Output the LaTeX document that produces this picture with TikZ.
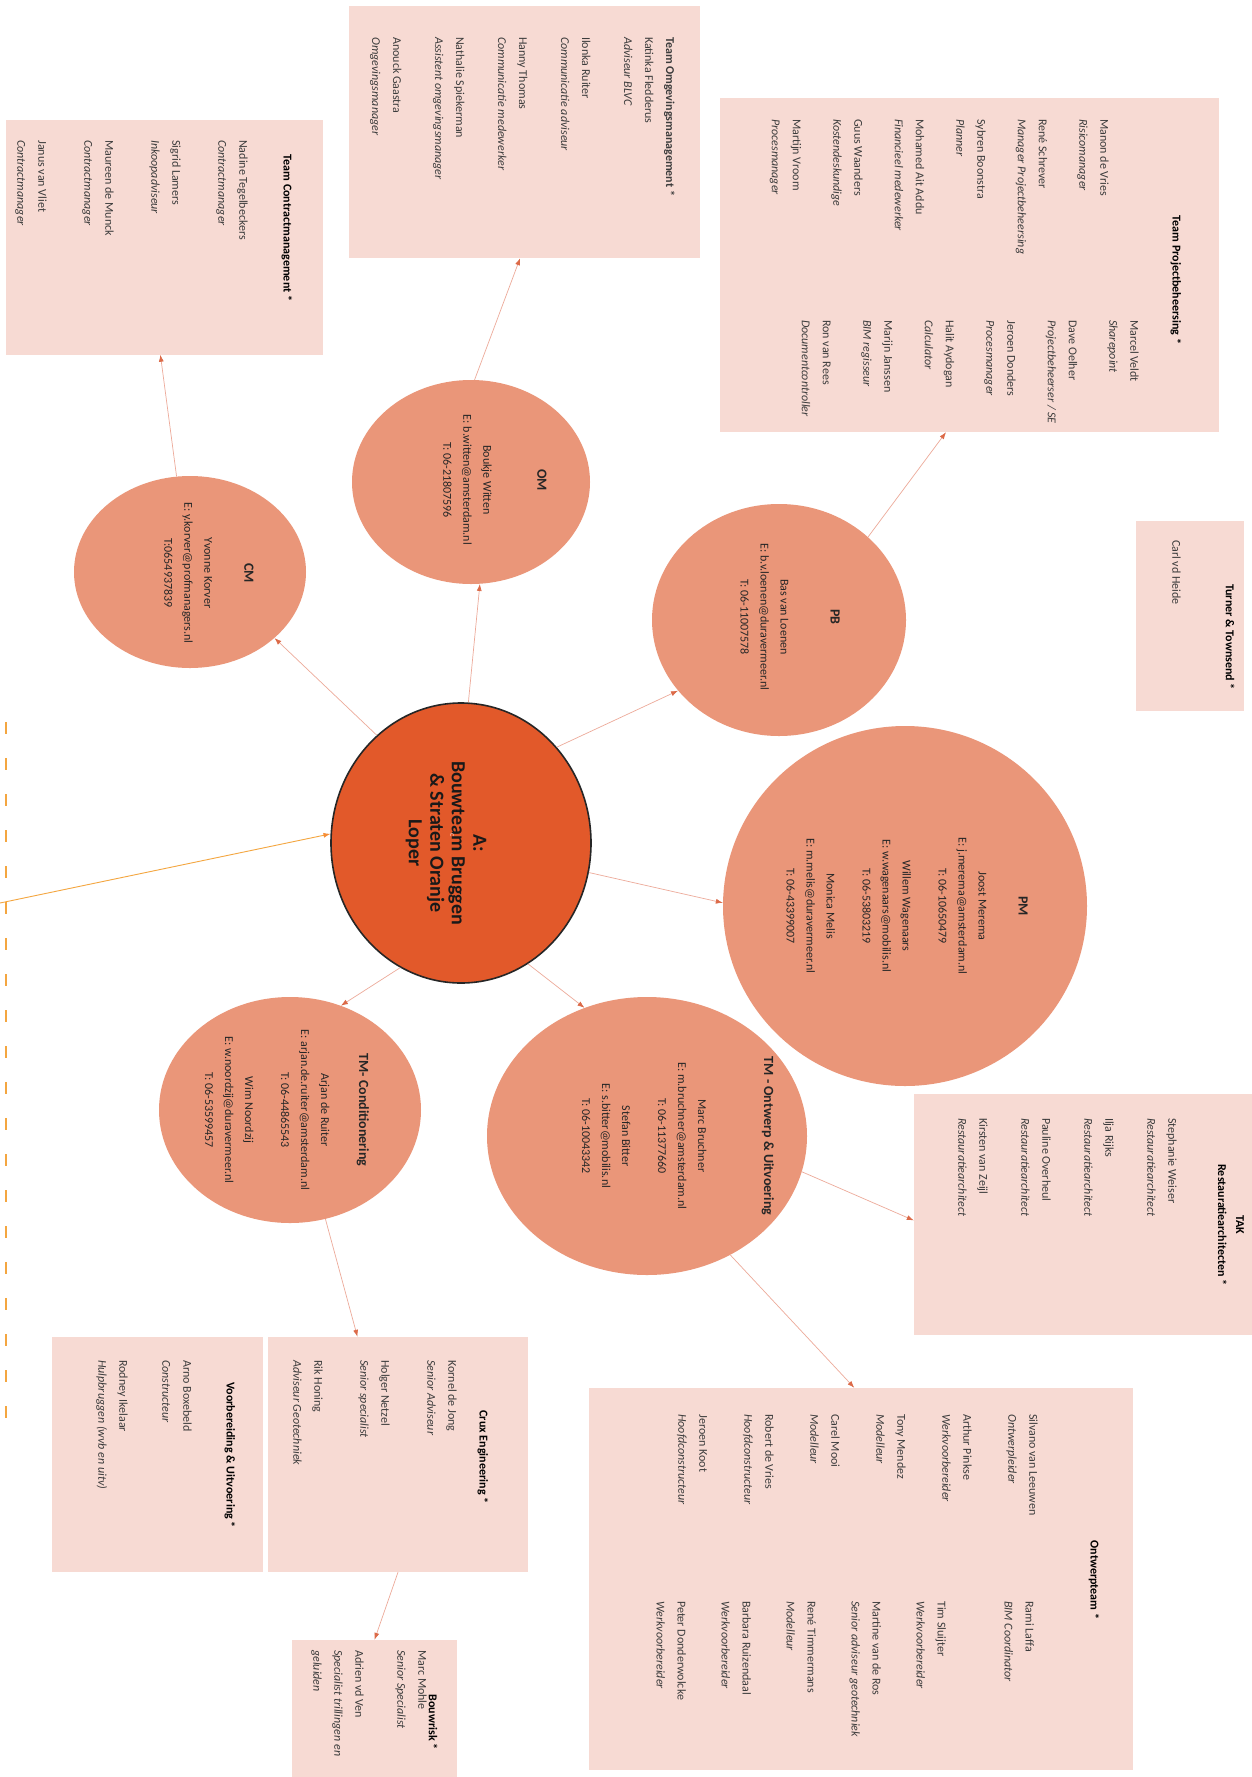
\documentclass[tikz,border=0pt]{standalone}
\usepackage{fontspec}
\setmainfont{Carlito}
\usetikzlibrary{shapes.geometric,arrows.meta}
\definecolor{boxpink}{HTML}{F7DAD3}
\definecolor{satfill}{HTML}{EA9679}
\definecolor{hubfill}{HTML}{E2592A}
\definecolor{linkcol}{HTML}{EDAA9A}
\definecolor{tipcol}{HTML}{DC6A48}
\definecolor{feedcol}{HTML}{F4A640}
\definecolor{inkgray}{HTML}{3C3C3C}

\begin{document}
\begin{tikzpicture}[x=1pt,y=-1pt,
    >={Latex[length=7pt,width=5pt,color=tipcol]},
    team/.style={rectangle,fill=boxpink,inner sep=0},
    sat/.style={ellipse,fill=satfill,inner sep=0},
    hub/.style={ellipse,fill=hubfill,draw=black!85,line width=1.6pt,inner sep=0},
    txt/.style={rotate=-90,inner sep=0,align=left,text=inkgray,font=\fontsize{12}{21}\selectfont},
    ttl/.style={rotate=-90,inner sep=0,align=center,text=black,font=\fontsize{12}{18}\selectfont\bfseries},
    ctxt/.style={rotate=-90,inner sep=0,align=center,text=black!85,font=\fontsize{12}{20}\selectfont},
    link/.style={->,draw=linkcol,line width=0.7pt}]
        \fill[white](0,0)rectangle(1252,1777);
        \useasboundingbox(0,0)rectangle(1252,1777);
        % teams
        \node[team,minimum width=317,minimum height=235](ctm)at(164.5,237){};
        \node[team,minimum width=351,minimum height=252](omb)at(524.5,132){};
        \node[team,minimum width=499,minimum height=334](pjb)at(969.5,265){};
        \node[team,minimum width=108,minimum height=190](tnt)at(1190,616){};
        \node[team,minimum width=338,minimum height=241](tak)at(1083,1214.5){};
        \node[team,minimum width=544,minimum height=382](owt)at(861,1579){};
        \node[team,minimum width=260,minimum height=235](crx)at(398,1454.5){};
        \node[team,minimum width=211,minimum height=235](vbu)at(157.5,1454.5){};
        \node[team,minimum width=165,minimum height=160](bwr)at(374.5,1720){};
        % circles
        \node[sat,minimum width=232,minimum height=192](cm)at(190,572){};
        \node[sat,minimum width=238,minimum height=204](om)at(471,482){};
        \node[sat,minimum width=254,minimum height=232](pb)at(779,620){};
        \node[sat,minimum width=364,minimum height=360](pm)at(905,906){};
        \node[sat,minimum width=320,minimum height=278](tmo)at(647,1136){};
        \node[sat,minimum width=262,minimum height=226](tmc)at(290,1110){};
        \node[hub,minimum width=260,minimum height=280](hub)at(461,843){};
        % links
        \draw[link](hub.128)--(cm.-38);
        \draw[link](hub.87)--(om.-85);
        \draw[link](hub.45)--(pb.215);
        \draw[link](hub.-13)--(pm.179);
        \draw[link](hub.-61)--(tmo.116);
        \draw[link](hub.-116)--(tmc.64);
        \draw[link](cm.98)--(ctm.-92);
        \draw[link](om.88)--(omb.-92);
        \draw[link](pb.43)--(pjb.-98);
        \draw[link](tmo.-13)--(tak.182);
        \draw[link](tmo.-55)--(owt.92);
        \draw[link](tmc.-72)--(crx.109);
        \draw[link](crx.south)--(bwr.north);
        \coordinate(feed)at(0,903);
        \draw[feedcol,line width=0.9pt,-{Latex[length=7pt,width=5pt,color=feedcol!85!red]}](feed)--(hub.176);
        \coordinate(dashtop)at(6,722);
        \coordinate(dashbot)at(6,1425);
        \draw[feedcol,line width=2.5pt,dash pattern=on 12pt off 24pt](dashtop)--(dashbot);
        % circle texts
        \node[rotate=-90,inner sep=0,align=center,font=\fontsize{20}{21.5}\selectfont\bfseries,text=black!90](hubtext)at(446,843){A:\\Bouwteam Bruggen\\\& Straten Oranje\\Loper};
        \node[rotate=-90,inner sep=0,text=hubfill!35!white,font=\fontsize{8}{8}\selectfont](hubmark)at(452,835){c};
        \node[ctxt](cmtext)at(209,573){{\fontsize{14}{20}\selectfont\bfseries CM}\\[20pt]Yvonne Korver\\E: y.korver@profmanagers.nl\\T:0654937839};
        \node[ctxt](omtext)at(495,480){{\fontsize{14}{20}\selectfont\bfseries OM}\\[34pt]Boukje Witten\\E: b.witten@amsterdam.nl\\T: 06-21807596};
        \node[ctxt](pbtext)at(790,617){{\fontsize{14}{20}\selectfont\bfseries PB}\\[30pt]Bas van Loenen\\E: b.v.loenen@duravermeer.nl\\T: 06-11007578};
        \node[ctxt](pmtext)at(907,906){{\fontsize{14}{20}\selectfont\bfseries PM}\\[20pt]Joost Merema\\E: j.merema@amsterdam.nl\\T: 06-10650479\\[16pt]Willem Wagenaars\\E: w.wagenaars@mobilis.nl\\T: 06-53803219\\[16pt]Monica Melis\\E: m.melis@duravermeer.nl\\T: 06-43399007};
        \node[ctxt](tmotext)at(678,1136){{\fontsize{14}{20}\selectfont\bfseries TM - Ontwerp \& Uitvoering}\\[46pt]Marc Bruchner\\E: m.bruchner@amsterdam.nl\\T: 06-11377660\\[16pt]Stefan Bitter\\E: s.bitter@mobilis.nl\\T: 06-10043342};
        \node[ctxt](tmctext)at(287,1110){{\fontsize{14}{20}\selectfont\bfseries TM- Conditionering}\\[18pt]Arjan de Ruiter\\E: arjan.de.ruiter@amsterdam.nl\\T: 06-44865543\\[16pt]Wim Noordzij\\E: w.noordzij@duravermeer.nl\\T: 06-53599457};
        % team texts
        \node[ttl](ctmttl)at(287,228){Team Contractmanagement *};
        \node[txt,anchor=north west](ctmlist)at(248,140){Nadine Tegelbeckers\\\textit{Contractmanager}\\[25pt]Sigrid Lamers\\\textit{Inkoopadviseur}\\[25pt]Maureen de Munck\\\textit{Contractmanager}\\[25pt]Janus van Vliet\\\textit{Contractmanager}};
        \node[txt,anchor=north west](omblist)at(675,37){\textbf{Team Omgevingsmanagement *}\\Katinka Fledderus\\\textit{Adviseur BLVC}\\[21pt]Ilonka Ruiter\\\textit{Communicatie adviseur}\\[21pt]Hanny Thomas\\\textit{Communicatie medewerker}\\[21pt]Nathalie Spiekerman\\\textit{Assistent omgevingsmanager}\\[21pt]Anouck Gaastra\\\textit{Omgevingsmanager}};
        \node[ttl](pjbttl)at(1176,280){Team Projectbeheersing *};
        \node[txt,anchor=north west](pjbleft)at(1109,119){Manon de Vries\\\textit{Risicomanager}\\[19.5pt]René Schrever\\\textit{Manager Projectbeheersing}\\[19.5pt]Sybren Boonstra\\\textit{Planner}\\[19.5pt]Mohamed Ait Addu\\\textit{Financieel medewerker}\\[19.5pt]Guus Waanders\\\textit{Kostendeskundige}\\[19.5pt]Martijn Vroom\\\textit{Procesmanager}};
        \node[txt,anchor=north west](pjbright)at(1139,320){Marcel Veldt\\\textit{Sharepoint}\\[19.5pt]Dave Oelher\\\textit{Projectbeheerser / SE}\\[19.5pt]Jeroen Donders\\\textit{Procesmanager}\\[19.5pt]Halit Aydogan\\\textit{Calculator}\\[19.5pt]Marijn Janssen\\\textit{BIM regisseur}\\[19.5pt]Ron van Rees\\\textit{Documentcontroller}};
        \node[ttl](tntttl)at(1230,637){Turner \& Townsend *};
        \node[txt,anchor=north west](tntlist)at(1181,540){Carl vd Heide};
        \node[ttl](takttl)at(1231,1225){TAK\\Restauratiearchitecten *};
        \node[txt,anchor=north west](taklist)at(1177,1118){Stephanie Weiser\\\textit{Restauratiearchitect}\\[21pt]Ilja Rijks\\\textit{Restauratiearchitect}\\[21pt]Pauline Overheul\\\textit{Restauratiearchitect}\\[21pt]Kirsten van Zeijl\\\textit{Restauratiearchitect}};
        \node[ttl](owtttl)at(1094,1580){Ontwerpteam *};
        \node[txt,anchor=north west](owtleft)at(1038,1414){Silvano van Leeuwen\\\textit{Ontwerpleider}\\[24pt]Arthur Pinkse\\\textit{Werkvoorbereider}\\[24pt]Tony Mendez\\\textit{Modelleur}\\[24pt]Carel Mooi\\\textit{Modelleur}\\[24pt]Robert de Vries\\\textit{Hoofdconstructeur}\\[24pt]Jeroen Koot\\\textit{Hoofdconstructeur}};
        \node[txt,anchor=north west](owtright)at(1034,1601){Rami Laffa\\\textit{BIM Coordinator}\\[46pt]Tim Sluijter\\\textit{Werkvoorbereider}\\[23pt]Martine van de Ros\\\textit{Senior adviseur geotechniek}\\[23pt]René Timmermans\\\textit{Modelleur}\\[23pt]Barbara Ruizendaal\\\textit{Werkvoorbereider}\\[23pt]Peter Donderwolcke\\\textit{Werkvoorbereider}};
        \node[ttl](crxttl)at(483,1457){Crux Engineering *};
        \node[txt,anchor=north west](crxlist)at(457,1360){Kornel de Jong\\\textit{Senior Adviseur}\\[25pt]Holger Netzel\\\textit{Senior specialist}\\[25pt]Rik Honing\\\textit{Adviseur Geotechniek}};
        \node[ttl](vbuttl)at(230,1455){Voorbereiding \& Uitvoering *};
        \node[txt,anchor=north west](vbulist)at(192,1360){Arno Boxebeld\\\textit{Constructeur}\\[22pt]Rodney Ikelaar\\\textit{Hulpbruggen (wvb en uitv)}};
        \node[ttl](bwrttl)at(433,1722){Bouwrisk *};
        \node[txt,anchor=north west](bwrlist)at(427,1650){Marc Mohle\\\textit{Senior Specialist}\\[21pt]Adrien vd Ven\\\textit{Specialist trillingen en}\\\textit{geluiden}};
    \end{tikzpicture}
\end{document}
